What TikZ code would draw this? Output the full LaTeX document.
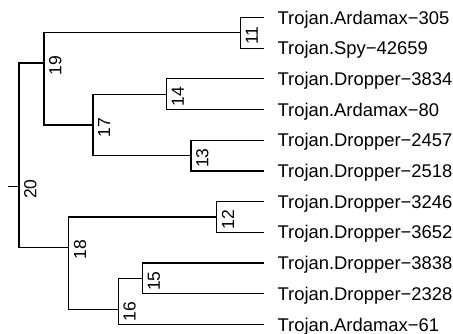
\documentclass[tikz,border=0pt]{standalone}
\usepackage{fontspec}
\setmainfont{Liberation Sans}
\begin{document}
\begin{tikzpicture}[x=1pt,y=-1pt,line width=1.2pt,
  tiplab/.style={anchor=base west,inner sep=0pt,font=\fontsize{18.4}{20}\selectfont},
  nodelab/.style={rotate=90,anchor=north,inner sep=0pt,font=\fontsize{17.5}{19}\selectfont},
  edge/.style={draw,line width=1.2pt}]
\useasboundingbox (0,0) rectangle (453,334);
% internal nodes
\coordinate (root) at (8,186.7);
\coordinate (n20) at (19,186.7);
\coordinate (n19) at (44,63);
\coordinate (n18) at (68.7,247.3);
\coordinate (n17) at (93,125);
\coordinate (n16) at (118.3,309.2);
\coordinate (n15) at (142.7,278.5);
\coordinate (n14) at (166.7,94.3);
\coordinate (n13) at (191,155.7);
\coordinate (n12) at (216.7,217.1);
\coordinate (n11) at (240.7,32.9);
% tips
\foreach \i in {0,...,10} {\coordinate (t\i) at (264,{17.5+30.7*\i});}
% edges
\draw[edge] (root) -- (n20);
\draw[edge] (n20) |- (n19);
\draw[edge] (n20) |- (n18);
\draw[edge] (n19) |- (n11);
\draw[edge] (n19) |- (n17);
\draw[edge] (n17) |- (n14);
\draw[edge] (n17) |- (n13);
\draw[edge] (n18) |- (n12);
\draw[edge] (n18) |- (n16);
\draw[edge] (n16) |- (n15);
\draw[edge] (n16) |- (t10);
\draw[edge] (n15) |- (t8);
\draw[edge] (n15) |- (t9);
\draw[edge] (n14) |- (t2);
\draw[edge] (n14) |- (t3);
\draw[edge] (n13) |- (t4);
\draw[edge] (n13) |- (t5);
\draw[edge] (n12) |- (t6);
\draw[edge] (n12) |- (t7);
\draw[edge] (n11) |- (t0);
\draw[edge] (n11) |- (t1);
% tip labels
\node[tiplab] (l0) at ([xshift=13pt,yshift=-6.6pt]t0) {Trojan.Ardamax−305};
\node[tiplab] (l1) at ([xshift=13pt,yshift=-6.6pt]t1) {Trojan.Spy−42659};
\node[tiplab] (l2) at ([xshift=13pt,yshift=-6.6pt]t2) {Trojan.Dropper−3834};
\node[tiplab] (l3) at ([xshift=13pt,yshift=-6.6pt]t3) {Trojan.Ardamax−80};
\node[tiplab] (l4) at ([xshift=13pt,yshift=-6.6pt]t4) {Trojan.Dropper−2457};
\node[tiplab] (l5) at ([xshift=13pt,yshift=-6.6pt]t5) {Trojan.Dropper−2518};
\node[tiplab] (l6) at ([xshift=13pt,yshift=-6.6pt]t6) {Trojan.Dropper−3246};
\node[tiplab] (l7) at ([xshift=13pt,yshift=-6.6pt]t7) {Trojan.Dropper−3652};
\node[tiplab] (l8) at ([xshift=13pt,yshift=-6.6pt]t8) {Trojan.Dropper−3838};
\node[tiplab] (l9) at ([xshift=13pt,yshift=-6.6pt]t9) {Trojan.Dropper−2328};
\node[tiplab] (l10) at ([xshift=13pt,yshift=-6.6pt]t10) {Trojan.Ardamax−61};
% node labels
\node[nodelab] (a20) at ([xshift=4.5pt,yshift=-2.5pt]n20) {20};
\node[nodelab] (a19) at ([xshift=4.5pt,yshift=-2.5pt]n19) {19};
\node[nodelab] (a18) at ([xshift=4.5pt,yshift=-2.5pt]n18) {18};
\node[nodelab] (a17) at ([xshift=4.5pt,yshift=-2.5pt]n17) {17};
\node[nodelab] (a16) at ([xshift=4.5pt,yshift=-2.5pt]n16) {16};
\node[nodelab] (a15) at ([xshift=4.5pt,yshift=-2.5pt]n15) {15};
\node[nodelab] (a14) at ([xshift=4.5pt,yshift=-2.5pt]n14) {14};
\node[nodelab] (a13) at ([xshift=4.5pt,yshift=-2.5pt]n13) {13};
\node[nodelab] (a12) at ([xshift=4.5pt,yshift=-2.5pt]n12) {12};
\node[nodelab] (a11) at ([xshift=4.5pt,yshift=-2.5pt]n11) {11};
\end{tikzpicture}
\end{document}
